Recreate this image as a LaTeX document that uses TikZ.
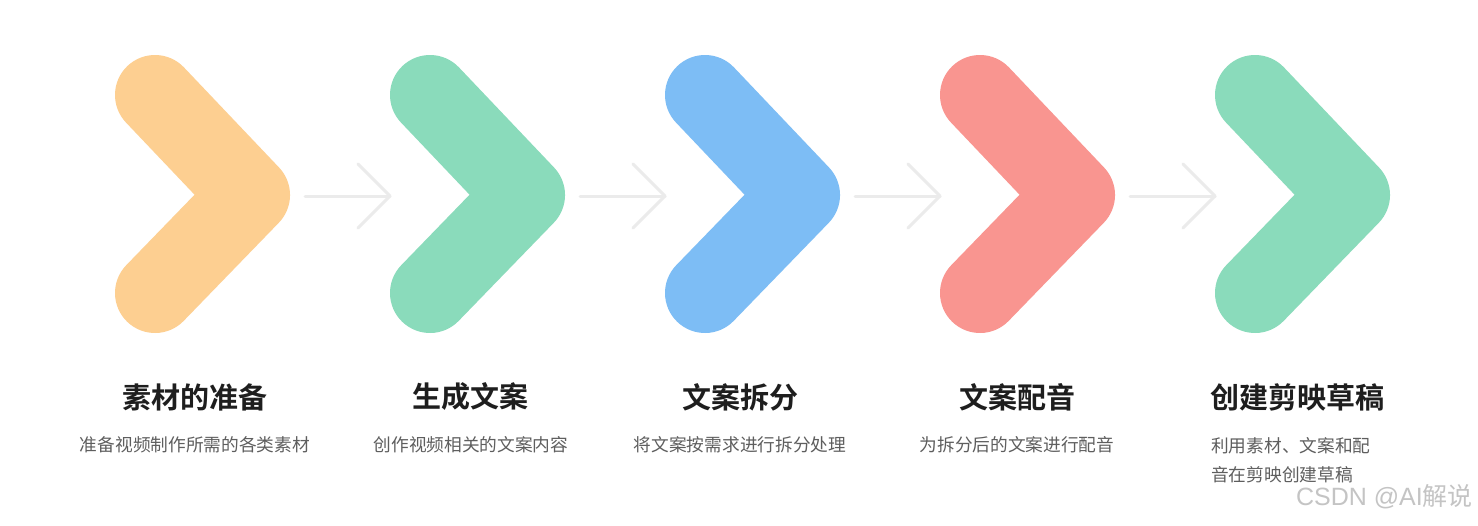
\documentclass[tikz,border=0pt]{standalone}
\usepackage{fontspec}
\setmainfont{Liberation Sans}
\newfontfamily\cjk{Noto Sans CJK SC}
\newfontfamily\cjkbold{Noto Sans CJK SC Bold}
\definecolor{corange}{HTML}{FDCF91}
\definecolor{cgreen}{HTML}{8ADBBB}
\definecolor{cblue}{HTML}{7DBDF5}
\definecolor{cred}{HTML}{F99590}
\definecolor{carrow}{HTML}{EBEBEB}
\definecolor{ctitle}{HTML}{1E1E1E}
\definecolor{cdesc}{HTML}{5E5E5E}
\definecolor{cmark}{HTML}{C4C4C4}
\begin{document}
\begin{tikzpicture}[x=1pt,y=-1pt,
  chev/.style={line width=80pt,line cap=round,line join=round},
  flow/.style={carrow,line width=3pt,line cap=round,line join=round},
  title/.style={font=\cjkbold\fontsize{29}{33}\selectfont,text=ctitle,anchor=center,inner sep=0pt},
  desc/.style={font=\cjk\fontsize{17.7}{29}\selectfont,text=cdesc,anchor=center,inner sep=0pt}]
\useasboundingbox[fill=white] (0,0) rectangle (1478,525);
\foreach \i/\c in {0/corange,1/cgreen,2/cblue,3/cred,4/cgreen}{
  \coordinate (t\i) at (155+275*\i,95);
  \coordinate (v\i) at (250+275*\i,195);
  \coordinate (b\i) at (155+275*\i,293);
  \draw[chev,\c] (t\i) -- (v\i) -- (b\i);
}
\foreach \i in {0,1,2,3}{
  \coordinate (as\i) at (305+275*\i,196);
  \coordinate (ae\i) at (390+275*\i,196);
  \coordinate (au\i) at (358+275*\i,164);
  \coordinate (ad\i) at (358+275*\i,228);
  \draw[flow] (as\i) -- (ae\i);
  \draw[flow] (au\i) -- (ae\i) -- (ad\i);
}
\node[title] (T0) at (195,397) {素材的准备};
\node[title] (T1) at (470,397) {生成文案};
\node[title] (T2) at (740,397) {文案拆分};
\node[title] (T3) at (1017,397) {文案配音};
\node[title] (T4) at (1297,397) {创建剪映草稿};
\node[desc] (D0) at (195,445) {准备视频制作所需的各类素材};
\node[desc] (D1) at (471,445) {创作视频相关的文案内容};
\node[desc] (D2) at (740,445) {将文案按需求进行拆分处理};
\node[desc] (D3) at (1017,445) {为拆分后的文案进行配音};
\node[desc,anchor=west,align=left] (D4) at (1211,460) {利用素材、文案和配\\音在剪映创建草稿};
\node[anchor=east,inner sep=0pt,text=cmark,font=\fontsize{25}{28}\selectfont] (W) at (1473,497) {CSDN @AI{\cjk 解说}};
\end{tikzpicture}
\end{document}
